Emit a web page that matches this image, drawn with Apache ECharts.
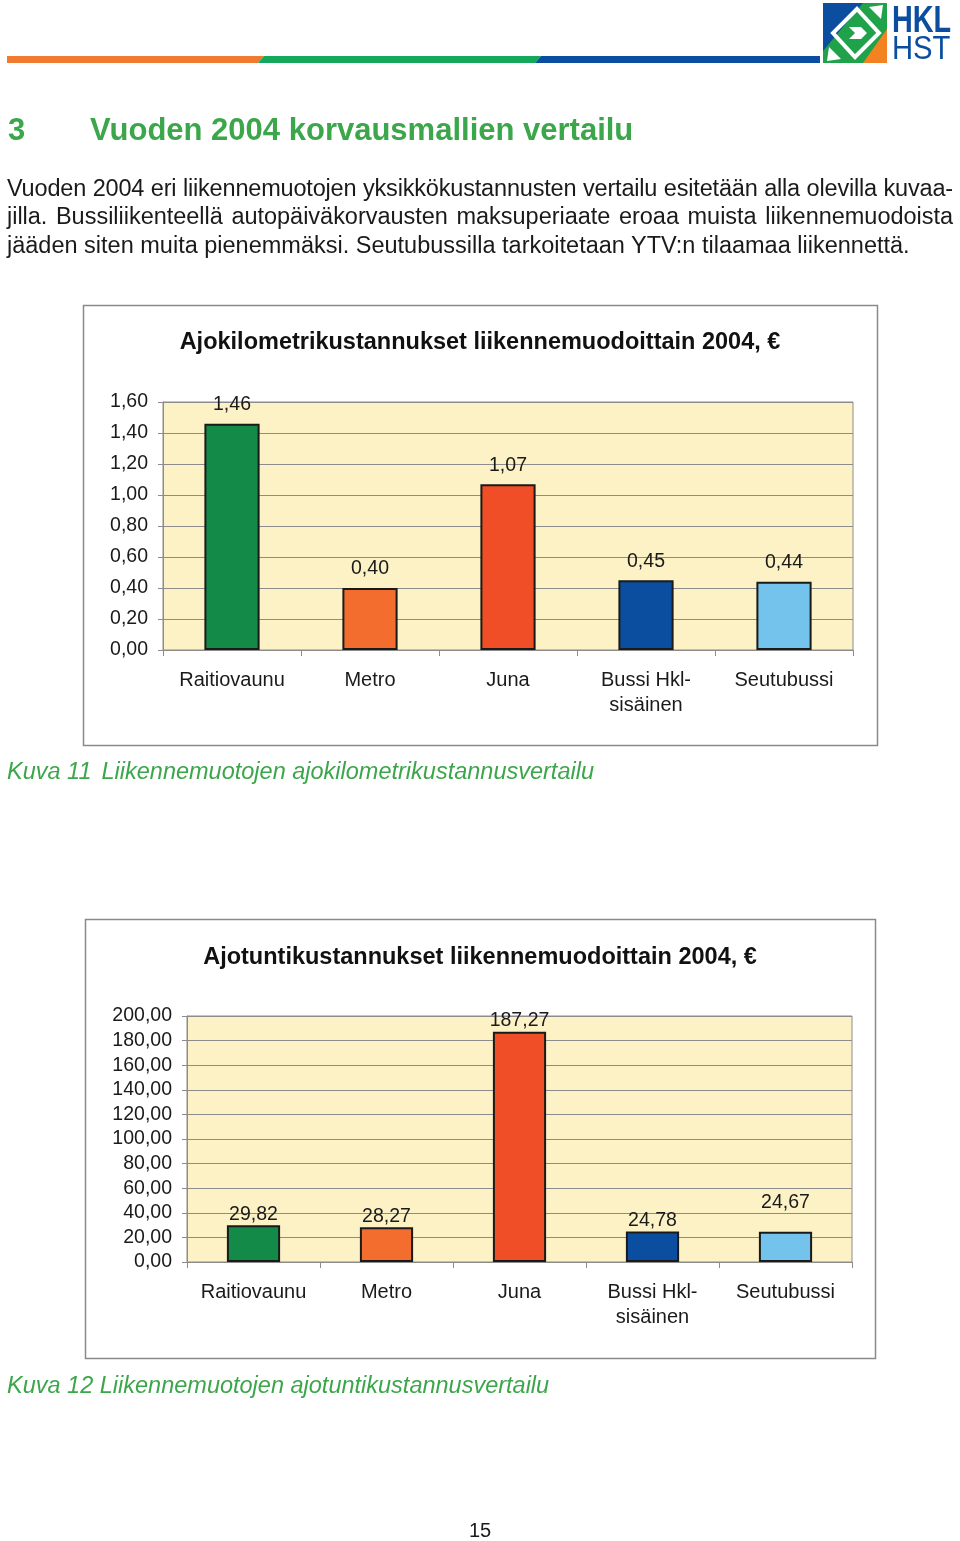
<!DOCTYPE html>
<html><head><meta charset="utf-8">
<script src="https://cdn.jsdelivr.net/npm/echarts@6/dist/echarts.min.js"></script>
<style>
html,body{margin:0;padding:0;background:#fff;}
#page{position:relative;width:960px;height:1541px;overflow:hidden;font-family:"Liberation Sans",Arial,sans-serif;background:#fff;}
#chart{position:absolute;left:0;top:0;width:960px;height:1541px;}
.t{position:absolute;white-space:nowrap;color:#1a1a1a;z-index:2;}
.h{color:#3CA64B;font-weight:bold;font-size:31px;line-height:36px;}
.p{position:absolute;left:7px;width:946px;font-size:23.5px;color:#1a1a1a;text-align:justify;text-align-last:justify;z-index:2;line-height:28px;}
.cap{color:#3CA64B;font-style:italic;font-size:23.5px;line-height:27px;}
</style></head>
<body>
<div id="page">
<div id="chart"></div>
<svg style="position:absolute;left:0;top:0;z-index:2" width="960" height="70">
  <polygon points="7,56 264,56 258,63 7,63" fill="#F07A2F"/>
  <polygon points="264,56 541,56 535,63 258,63" fill="#13A85C"/>
  <polygon points="541,56 820,56 820,63 535,63" fill="#0B4EA0"/>
  <g transform="translate(823,3)">
    <rect x="0" y="0" width="64" height="60" fill="#1FA24A"/>
    <polygon points="0,0 40,0 0,48" fill="#0B4EA0"/>
    <polygon points="64,26 64,60 40,60" fill="#F58220"/>
    <polygon points="34,6 56,30 32,54 10,30" fill="none" stroke="#fff" stroke-width="4"/>
    <polygon points="26,24 38,24 44,30 38,36 26,36 32,30" fill="#fff"/>
    <polygon points="46,4 60,2 58,16" fill="#fff"/>
    <polygon points="18,56 4,58 6,44" fill="#fff"/>
  </g>
</svg>
<div class="t" style="left:892px;top:0px;font-size:36px;font-weight:bold;color:#0B4EA0;transform:scaleX(0.8);transform-origin:0 0;line-height:40px;">HKL</div>
<div class="t" style="left:892px;top:29px;font-size:34px;color:#0B4EA0;transform:scaleX(0.86);transform-origin:0 0;line-height:36px;">HST</div>

<div class="t h" style="left:8px;top:112px;">3</div>
<div class="t h" style="left:90px;top:112px;">Vuoden 2004 korvausmallien vertailu</div>

<div class="p fit" style="top:174px;">Vuoden 2004 eri liikennemuotojen yksikkökustannusten vertailu esitetään alla olevilla kuvaa-</div>
<div class="p fit" style="top:202px;">jilla. Bussiliikenteellä autopäiväkorvausten maksuperiaate eroaa muista liikennemuodoista</div>
<div class="p" style="top:231px;text-align-last:left;">jääden siten muita pienemmäksi. Seutubussilla tarkoitetaan YTV:n tilaamaa liikennettä.</div>

<div class="t cap" style="left:7px;top:758px;">Kuva 11<span style="display:inline-block;width:10px"></span>Liikennemuotojen ajokilometrikustannusvertailu</div>
<div class="t cap" style="left:7px;top:1372px;">Kuva 12 Liikennemuotojen ajotuntikustannusvertailu</div>

<div class="t" style="left:469px;top:1519px;font-size:20px;">15</div>
</div>
<script>
const categories = ['Raitiovaunu', 'Metro', 'Juna', 'Bussi Hkl-\nsisäinen', 'Seutubussi'];
const kmCosts = [1.46, 0.40, 1.07, 0.45, 0.44];
const hourCosts = [29.82, 28.27, 187.27, 24.78, 24.67];
const barColors = ['#138A47', '#F36E2E', '#F04E26', '#0B4EA0', '#74C3EC'];
const kmAxis = { min: 0, max: 1.6, interval: 0.2 };
const hourAxis = { min: 0, max: 200, interval: 20 };
const titles = ['Ajokilometrikustannukset liikennemuodoittain 2004, €', 'Ajotuntikustannukset liikennemuodoittain 2004, €'];

// fit justified paragraph lines that are too long
document.querySelectorAll('.p.fit').forEach(el => {
  const txt = el.textContent;
  const s = document.createElement('span');
  s.style.whiteSpace = 'nowrap';
  s.textContent = txt;
  el.textContent = '';
  el.appendChild(s);
  const w = s.getBoundingClientRect().width;
  el.textContent = txt;
  if (w > 944) el.style.letterSpacing = ((944 - w) / txt.length) + 'px';
});

const FONT = '"Liberation Sans", Arial, sans-serif';
const TXT = '#1a1a1a';
const GRAY = '#8c8c8c';
const fmt = v => Number(v).toFixed(2).replace('.', ',');

function xAxisFor(gi) {
  return {
    type: 'category', gridIndex: gi, data: categories,
    axisLine: { lineStyle: { color: GRAY, width: 1 } },
    axisTick: { show: true, interval: 0, length: 6, lineStyle: { color: GRAY } },
    axisLabel: { interval: 0, fontSize: 20, color: TXT, margin: 18, lineHeight: 25, fontFamily: FONT }
  };
}
function yAxisFor(gi, ax) {
  return {
    type: 'value', gridIndex: gi, min: ax.min, max: ax.max, interval: ax.interval,
    axisLine: { show: true, lineStyle: { color: GRAY } },
    axisTick: { show: true, length: 5, lineStyle: { color: GRAY } },
    axisLabel: { fontSize: 19.5, color: TXT, margin: 15, fontFamily: FONT, formatter: fmt, padding: [4, 0, 0, 0] },
    splitLine: { show: true, lineStyle: { color: GRAY, width: 1 } }
  };
}
function barSeries(gi, values, dist, extra) {
  return {
    type: 'bar', xAxisIndex: gi, yAxisIndex: gi, barWidth: '40%',
    data: values.map((v, i) => {
      const item = { value: v, itemStyle: { color: barColors[i] } };
      if (extra && extra[i]) item.label = extra[i];
      return item;
    }),
    itemStyle: { borderColor: '#1a1a1a', borderWidth: 2 },
    label: { show: true, position: 'top', distance: dist, fontSize: 19.5, color: TXT, fontFamily: FONT, formatter: p => fmt(p.value) },
    animation: false
  };
}

const chart = echarts.init(document.getElementById('chart'), null, { renderer: 'canvas' });
chart.setOption({
  animation: false,
  backgroundColor: '#ffffff',
  title: [
    { text: titles[0], left: 'center', top: 331, padding: 0, textStyle: { fontSize: 23.5, fontWeight: 'bold', color: '#111', fontFamily: FONT } },
    { text: titles[1], left: 'center', top: 946, padding: 0, textStyle: { fontSize: 23.5, fontWeight: 'bold', color: '#111', fontFamily: FONT } }
  ],
  graphic: [
    { type: 'rect', shape: { x: 83.5, y: 305.5, width: 794, height: 440 }, style: { fill: 'none', stroke: '#8a8a8a', lineWidth: 1.5 }, z: 0 },
    { type: 'rect', shape: { x: 85.5, y: 919.5, width: 790, height: 439 }, style: { fill: 'none', stroke: '#8a8a8a', lineWidth: 1.5 }, z: 0 }
  ],
  grid: [
    { left: 163, top: 402, width: 690, height: 248, show: true, backgroundColor: '#FCF2C6', borderColor: GRAY, borderWidth: 1 },
    { left: 187, top: 1016, width: 665, height: 246, show: true, backgroundColor: '#FCF2C6', borderColor: GRAY, borderWidth: 1 }
  ],
  xAxis: [xAxisFor(0), xAxisFor(1)],
  yAxis: [yAxisFor(0, kmAxis), yAxisFor(1, hourAxis)],
  series: [
    barSeries(0, kmCosts, 9),
    barSeries(1, hourCosts, 1, { 4: { offset: [0, -18] } })
  ]
});
</script>
</body></html>
